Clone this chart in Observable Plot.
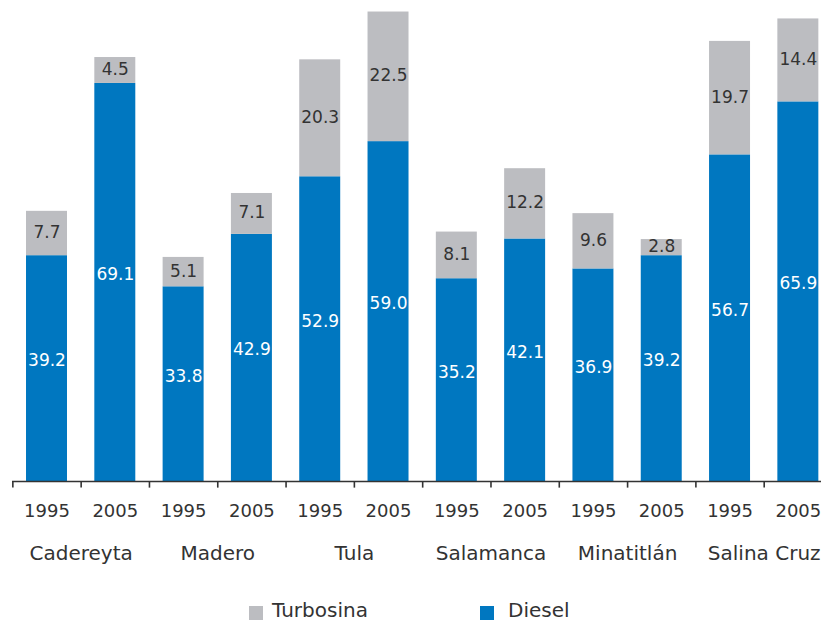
<!DOCTYPE html>
<html>
<head>
<meta charset="utf-8">
<script src="https://cdn.jsdelivr.net/npm/d3@7"></script>
<script src="https://cdn.jsdelivr.net/npm/@observablehq/plot@0.6"></script>
<style>
  html, body { margin: 0; padding: 0; background: #fff; overflow: hidden; }
  #wrap { position: relative; width: 821px; height: 624px; font-family: "DejaVu Sans", sans-serif; color: #333; }
  #legend { position: absolute; left: 0; top: 590px; width: 821px; height: 34px; }
  .sw { position: absolute; width: 14px; height: 14px; top: 16px; }
  .lt { position: absolute; top: 8px; font-size: 20px; line-height: 24px; }
</style>
</head>
<body>
<div id="wrap">
  <div id="chart"></div>
  <div id="legend">
    <div class="sw" style="left:249px;background:#BCBDC1"></div><div class="lt" style="left:272px">Turbosina</div>
    <div class="sw" style="left:480px;background:#0077C0"></div><div class="lt" style="left:508px">Diesel</div>
  </div>
</div>
<script>
const refineries = ["Cadereyta", "Madero", "Tula", "Salamanca", "Minatitlán", "Salina Cruz"];
const years = ["1995", "2005"];
const diesel = [39.2, 69.1, 33.8, 42.9, 52.9, 59.0, 35.2, 42.1, 36.9, 39.2, 56.7, 65.9];
const turbosina = [7.7, 4.5, 5.1, 7.1, 20.3, 22.5, 8.1, 12.2, 9.6, 2.8, 19.7, 14.4];
const series = ["Turbosina", "Diesel"];
const colors = ["#BCBDC1", "#0077C0"];

const keys = [];
const rows = [];
refineries.forEach((r, i) => {
  years.forEach((y, j) => {
    const k = i * 2 + j;
    const key = r + " " + y;
    keys.push(key);
    const d = diesel[k], t = turbosina[k];
    rows.push({key, refinery: r, year: y, series: "Diesel", value: d, y1: 0, y2: d});
    rows.push({key, refinery: r, year: y, series: "Turbosina", value: t, y1: d, y2: d + t});
  });
});
const byKey = keys.map((key, k) => ({key, refinery: refineries[Math.floor(k / 2)], year: years[k % 2]}));
const step = (832 - 12.35) / 12;

const chart = Plot.plot({
  width: 821,
  height: 590,
  marginTop: 0,
  marginLeft: 12,
  marginRight: 0,
  marginBottom: 109,
  style: {fontFamily: "DejaVu Sans, sans-serif", color: "#333", background: "#fff", overflow: "visible"},
  x: {type: "band", domain: keys, range: [12.35, 832], paddingInner: 0.4, paddingOuter: 0.2, round: false, axis: null},
  y: {domain: [0, 83.5], axis: null},
  color: {domain: series, range: colors},
  marks: [
    Plot.barY(rows, {x: "key", y1: "y1", y2: "y2", fill: "series"}),
    Plot.text(rows.filter(d => d.series === "Diesel"), {
      x: "key", y: d => (d.y1 + d.y2) / 2, text: d => d.value.toFixed(1),
      fill: "#fff", fontSize: 17, dy: -8
    }),
    Plot.text(rows.filter(d => d.series === "Turbosina"), {
      x: "key", y: d => (d.y1 + d.y2) / 2, text: d => d.value.toFixed(1),
      fill: "#333", fontSize: 17, dy: -1
    }),
    Plot.ruleY([0], {stroke: "#333", strokeWidth: 1.6}),
    Plot.ruleX(keys, {x: d => d, y1: 0, y2: -1.15, dx: -step / 2, stroke: "#333", strokeWidth: 1.6}),
    Plot.text(byKey, {x: "key", y: 0, text: "year", lineAnchor: "bottom", dy: 35, fontSize: 18, fill: "#333"}),
    Plot.text(byKey.filter(d => d.year === "2005"), {x: "key", y: 0, text: "refinery", lineAnchor: "bottom", dy: 78, dx: -step / 2, fontSize: 20, fill: "#333"})
  ]
});
document.getElementById("chart").appendChild(chart);
</script>
</body>
</html>
